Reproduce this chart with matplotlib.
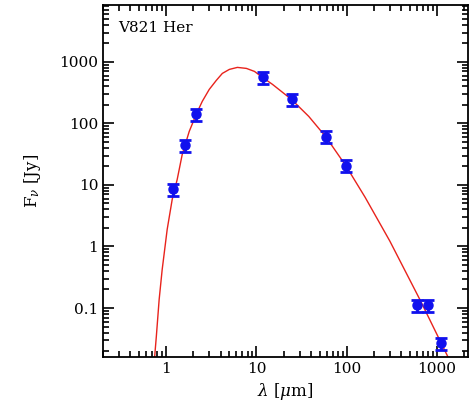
import matplotlib
matplotlib.use("Agg")
import matplotlib.pyplot as plt
import numpy as np
from matplotlib.ticker import FixedLocator, FixedFormatter, LogLocator, NullFormatter

# photometry (wavelength in micron, flux in Jy)
obs_wave = [1.2, 1.63, 2.15, 11.7, 24.5, 58.5, 97.5, 600, 790, 1100]
obs_flux = [8.5, 44, 140, 560, 245, 61, 20.7, 0.11, 0.11, 0.027]
obs_err_frac = [0.22, 0.22, 0.22, 0.22, 0.22, 0.22, 0.22, 0.22, 0.22, 0.22]

# model curve
model_wave = [0.745, 0.778, 0.836, 0.903, 1.026, 1.166, 1.325, 1.506, 1.80,
              2.15, 2.51, 3.0, 3.59, 4.19, 5.01, 6.15, 7.74, 9.5, 11.7,
              15.1, 24.5, 38, 58.5, 97.5, 160, 300, 647, 1325]
model_flux = [0.016, 0.0344, 0.137, 0.42, 1.89, 5.8, 12.3, 31.3, 74,
              140, 228, 357, 500, 650, 755, 814, 784, 701, 560,
              430, 245, 130, 61, 20.7, 6.3, 1.23, 0.137, 0.016]

xticks = [1, 10, 100, 1000]
xticklabels = ["1", "10", "100", "1000"]
yticks = [0.1, 1, 10, 100, 1000]
yticklabels = ["0.1", "1", "10", "100", "1000"]

plt.rcParams['font.family'] = ['DejaVu Serif']
plt.rcParams['mathtext.fontset'] = 'dejavuserif'

fig = plt.figure(figsize=(4.75, 4.19), dpi=100)
ax = fig.add_axes([0.217, 0.148, 0.768, 0.840])

ax.plot(model_wave, model_flux, color='#e8231c', linewidth=1.0, zorder=2)

flux = np.array(obs_flux)
err = flux * np.array(obs_err_frac)
ax.errorbar(obs_wave, flux, yerr=[err, err], fmt='o', color='#1010ee',
            markersize=6.5, capsize=4, capthick=2, elinewidth=2, zorder=3)

ax.set_xscale('log')
ax.set_yscale('log')
ax.set_xlim(0.2, 2200)
ax.set_ylim(0.016, 8400)

ax.xaxis.set_major_locator(FixedLocator(xticks))
ax.xaxis.set_major_formatter(FixedFormatter(xticklabels))
ax.yaxis.set_major_locator(FixedLocator(yticks))
ax.yaxis.set_major_formatter(FixedFormatter(yticklabels))
for axis in (ax.xaxis, ax.yaxis):
    axis.set_minor_locator(LogLocator(base=10, subs=np.arange(2, 10), numticks=20))
    axis.set_minor_formatter(NullFormatter())

ax.tick_params(which='both', direction='in', top=True, right=True,
               labelsize=11, width=1.2)
ax.tick_params(which='major', length=8)
ax.tick_params(which='minor', length=4)
for s in ax.spines.values():
    s.set_linewidth(1.3)

ax.text(0.04, 0.955, 'V821 Her', transform=ax.transAxes, fontsize=11,
        ha='left', va='top')

ax.set_xlabel(r'$\lambda$ [$\mu$m]', fontsize=12)
ax.set_ylabel(r'F$_\nu$ [Jy]', fontsize=12, labelpad=12)

fig.savefig('out.png', dpi=100)
